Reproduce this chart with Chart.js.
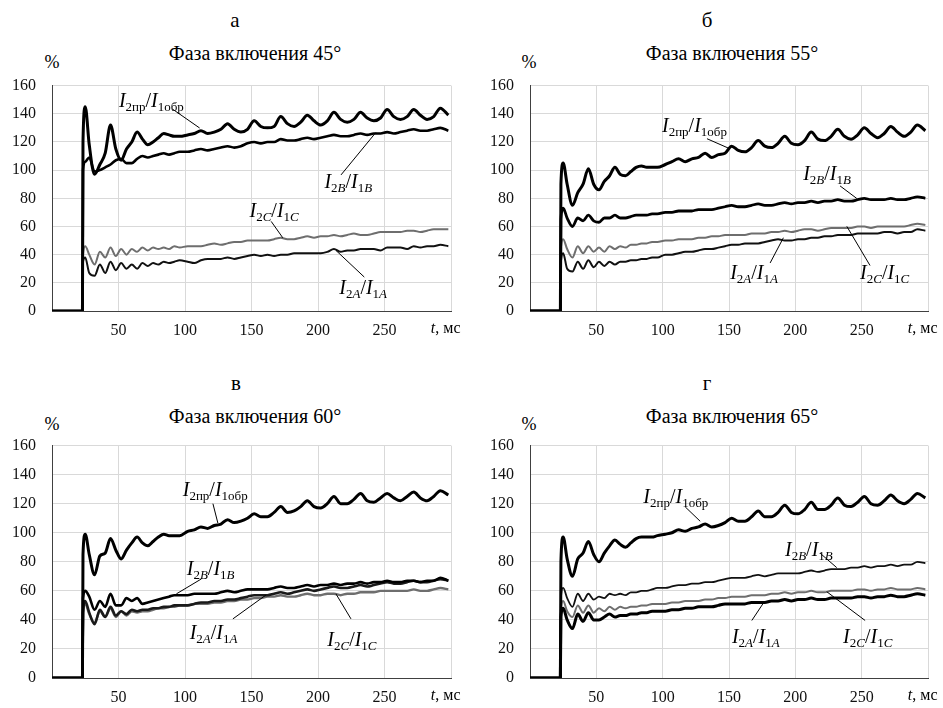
<!DOCTYPE html>
<html>
<head>
<meta charset="utf-8">
<script src="https://cdn.jsdelivr.net/npm/chart.js@4/dist/chart.umd.min.js"></script>
<style>
  body { margin: 0; width: 943px; height: 708px; position: relative; overflow: hidden; background: #fff;
         font-family: 'Liberation Serif', 'Times New Roman', serif; color: #000; }
  canvas { position: absolute; }
  .t { position: absolute; white-space: nowrap; transform: translate(-50%, -50%); }
</style>
</head>
<body>
<div class="t" style="left:235px;top:20px;font-size:21px">а</div>
<div class="t" style="left:707px;top:20px;font-size:21px">б</div>
<div class="t" style="left:236px;top:383px;font-size:21px">в</div>
<div class="t" style="left:707px;top:383px;font-size:21px">г</div>

<div class="t" style="left:255px;top:53px;font-size:20px">Фаза включения 45°</div>
<div class="t" style="left:732px;top:53px;font-size:20px">Фаза включения 55°</div>
<div class="t" style="left:255px;top:416px;font-size:20px">Фаза включения 60°</div>
<div class="t" style="left:732px;top:416px;font-size:20px">Фаза включения 65°</div>

<div class="t" style="left:52px;top:62px;font-size:18px">%</div>
<div class="t" style="left:529px;top:62px;font-size:18px">%</div>
<div class="t" style="left:52px;top:424px;font-size:18px">%</div>
<div class="t" style="left:529px;top:424px;font-size:18px">%</div>

<canvas id="c45" width="470" height="290" style="left:0;top:60px"></canvas>
<canvas id="c55" width="473" height="290" style="left:470px;top:60px"></canvas>
<canvas id="c60" width="470" height="288" style="left:0;top:420px"></canvas>
<canvas id="c65" width="473" height="288" style="left:470px;top:420px"></canvas>

<script>
// время, мс
const T = [0, 22.9, 23.3, 25, 28, 32, 36, 40, 44, 48, 52, 56, 60, 64, 68, 72, 76, 80, 84, 88, 92, 96,
  102, 107, 112, 117, 122, 127, 132, 137, 142, 147, 152, 157, 162, 167, 172, 177, 182, 187, 192, 197,
  202, 207, 212, 217, 222, 227, 232, 237, 242, 247, 252, 257, 262, 267, 272, 277, 282, 287, 292, 298];

const yTicks = [0, 20, 40, 60, 80, 100, 120, 140, 160];
const xTicks = [50, 100, 150, 200, 250];

// Фаза 45
const pr45 = [0,0, 120,145,118,97,104,112,132,115,107,115,120,127,122,118,120,123,126,125,124,124,
  125,126,128,126,127,129,133,129,127,129, 135,131,130,131,138,133,131,134,139,135,
  132,135,141,136,134,136,141,137,135,137, 143,138,136,138,143,139,136,138,144,139];
const b45 = [0,0, 100,106,109,99,100,102,104,107,108,105,105,108,110,109,110,111,112,111,112,113,
  113,114,115,114,115,116,117,116,117,119, 120,119,120,120,122,121,121,122,123,122,
  123,124,125,124,124,125,126,125,126,126, 127,126,127,128,129,128,128,129,130,128];
const c45 = [0,0, 40,46,40,33,42,38,45,39,44,40,44,42,45,43,45,44,45,44,46,45,
  46,46,46,47,48,47,48,49,49,50, 50,50,50,51,52,51,51,52,53,52,
  53,53,54,53,54,55,54,54,55,56, 56,56,56,57,57,56,57,58,58,58];
const a45 = [0,0, 35,38,27,25,33,27,35,29,34,30,33,30,34,32,34,33,35,34,35,36,
  35,34,36,37,37,37,38,37,38,39, 40,39,40,39,40,40,41,41,41,41,
  41,42,44,42,43,43,44,44,44,43, 45,45,45,44,46,45,46,46,47,46];

// Фаза 55
const pr55 = [0,0, 90,105,90,75,84,90,101,90,86,92,96,102,97,96,99,102,103,102,102,102,
  104,106,108,106,108,109,112,109,111,112, 117,114,113,116,121,117,116,119,124,119,
  118,121,127,122,121,124,129,124,122,125, 130,126,123,126,131,127,124,127,132,128];
const b55 = [0,0, 65,73,66,60,66,64,68,64,63,66,66,68,66,66,67,68,68,68,69,69,
  70,70,71,71,71,72,72,72,73,74, 75,74,74,75,76,75,75,76,77,76,
  77,77,78,77,78,78,79,78,78,79, 80,79,79,79,80,79,79,80,81,80];
const c55 = [0,0, 45,51,44,38,46,41,46,42,45,42,46,44,46,45,47,47,48,48,49,49,
  50,50,51,51,51,52,52,53,53,54, 54,54,54,55,55,55,56,56,57,56,
  57,58,58,57,58,59,59,59,59,60, 60,59,60,60,60,60,60,61,62,61];
const a55 = [0,0, 35,41,30,28,35,30,36,31,35,32,35,33,35,35,36,36,37,37,38,38,
  40,40,41,42,42,43,44,44,45,46, 47,47,48,48,48,49,50,51,50,50,
  51,51,52,52,53,53,54,54,54,55, 55,55,55,56,56,55,56,56,58,57];

// Фаза 60
const pr60 = [0,0, 85,99,85,71,84,86,96,88,82,88,93,97,93,91,94,97,99,98,98,98,
  101,102,104,103,105,106,109,107,108,110, 113,111,111,114,118,114,115,118,122,118,
  117,120,125,120,120,123,127,122,121,124, 127,124,122,125,128,124,122,125,129,126];
const b60 = [0,0, 55,60,56,47,53,49,58,50,50,55,53,55,51,52,53,54,55,56,57,57,
  57,58,58,58,58,59,60,59,60,61, 61,61,61,62,63,62,62,63,64,63,
  64,64,65,64,65,65,66,65,66,66, 67,66,66,67,67,66,67,67,69,67];
const c60 = [0,0, 45,51,44,38,46,42,48,42,46,43,46,45,46,46,47,48,48,49,49,50,
  50,51,51,51,52,52,53,53,54,54, 55,55,56,56,57,56,56,57,58,57,
  57,58,58,57,58,58,59,59,59,60, 60,60,60,60,61,60,60,61,62,61];
const a60 = [0,0, 45,53,45,37,47,42,49,43,46,44,47,46,47,47,48,48,49,49,50,50,
  50,51,52,52,53,53,54,54,55,56, 57,57,57,58,59,58,59,60,61,60,
  61,62,63,62,62,63,64,63,64,65, 66,65,65,66,67,66,66,67,68,67];

// Фаза 65
const pr65 = [0,0, 80,97,82,70,82,86,94,85,80,86,91,95,92,90,93,96,97,97,97,98,
  99,100,102,101,103,104,106,104,105,107, 110,108,108,111,115,111,111,114,119,114,
  113,116,121,116,116,119,124,119,118,121, 125,120,119,122,126,122,120,123,127,124];
const b65 = [0,0, 55,62,55,49,58,53,58,54,56,55,58,57,58,57,59,59,60,60,61,62,
  62,63,64,64,65,65,66,66,67,68, 69,69,69,70,71,70,71,72,72,72,
  72,73,74,73,74,75,75,75,76,76, 77,76,77,77,78,77,78,78,80,79];
const c65 = [0,0, 47,53,46,42,50,45,50,45,48,46,49,47,49,48,49,49,50,50,51,51,
  51,52,52,53,53,53,54,54,55,55, 56,56,56,57,57,57,58,58,59,58,
  59,59,60,59,59,60,60,60,60,61, 61,60,61,61,62,61,61,61,62,61];
const a65 = [0,0, 42,48,40,34,44,39,45,40,40,42,44,42,43,43,44,44,45,45,46,46,
  46,47,47,48,48,49,49,49,50,51, 51,51,51,52,52,52,53,53,54,53,
  54,54,55,54,54,55,55,55,55,56, 56,55,56,56,57,56,56,57,58,57];

// подписи кривых
const txtPr = [['I','i'],['2пр','s'],['/','r'],['I','i'],['1обр','s']];
const txt = L => [['I','i'],['2','s'],[L,'si'],['/','r'],['I','i'],['1','s'],[L,'si']];

const FONT = "'Liberation Serif', 'Times New Roman', serif";

const curveLabels = {
  id: 'curveLabels',
  afterDatasetsDraw(chart, args, opts) {
    const { ctx, scales: { x, y }, chartArea } = chart;
    ctx.save();
    ctx.fillStyle = '#000';
    ctx.strokeStyle = '#000';
    ctx.lineWidth = 1;
    ctx.textBaseline = 'alphabetic';
    opts.items.forEach(it => {
      ctx.beginPath();
      ctx.moveTo(x.getPixelForValue(it.line[0]), y.getPixelForValue(it.line[1]));
      ctx.lineTo(x.getPixelForValue(it.line[2]), y.getPixelForValue(it.line[3]));
      ctx.stroke();
      let px = x.getPixelForValue(it.at[0]);
      const py = y.getPixelForValue(it.at[1]);
      it.parts.forEach(([s, st]) => {
        let f, dy = 0;
        if (st === 'i') f = 'italic 20px ' + FONT;
        else if (st === 'r') f = '20px ' + FONT;
        else if (st === 's') { f = '13px ' + FONT; dy = 4; }
        else { f = 'italic 13px ' + FONT; dy = 4; }
        ctx.font = f;
        ctx.fillText(s, px, py + dy);
        px += ctx.measureText(s).width;
      });
    });
    // подпись оси t, мс
    ctx.textBaseline = 'top';
    ctx.font = 'italic 16px ' + FONT;
    const w1 = ctx.measureText('t').width;
    ctx.font = '16px ' + FONT;
    const w2 = ctx.measureText(', мс').width;
    let sx = x.getPixelForValue(296) - (w1 + w2) / 2;
    const sy = chartArea.bottom + 10;
    ctx.font = 'italic 16px ' + FONT;
    ctx.fillText('t', sx, sy);
    ctx.font = '16px ' + FONT;
    ctx.fillText(', мс', sx + w1, sy);
    ctx.restore();
  }
};

function line(vals, color, w) {
  return {
    data: T.map((t, i) => ({ x: t, y: vals[i] })),
    borderColor: color,
    borderWidth: w,
    pointRadius: 0,
    fill: false,
    cubicInterpolationMode: 'monotone'
  };
}

function makePanel(id, datasets, items, yw, xh, padTop, padRight) {
  new Chart(document.getElementById(id), {
    type: 'line',
    data: { datasets },
    options: {
      responsive: false,
      animation: false,
      layout: { padding: { top: padTop, right: padRight, left: 0, bottom: 0 } },
      plugins: {
        legend: { display: false },
        tooltip: { enabled: false },
        curveLabels: { items }
      },
      scales: {
        x: {
          type: 'linear', min: 0, max: 300,
          afterBuildTicks: s => { s.ticks = [0].concat(xTicks, [300]).map(v => ({ value: v })); },
          afterFit: s => { s.height = xh; },
          grid: { color: '#d9d9d9', lineWidth: 1, drawTicks: false },
          border: { display: true, color: '#404040', width: 1 },
          ticks: {
            padding: 10, color: '#111', font: { family: FONT, size: 16 },
            maxRotation: 0, autoSkip: false,
            callback: v => xTicks.includes(v) ? String(v) : ''
          }
        },
        y: {
          min: 0, max: 160,
          afterBuildTicks: s => { s.ticks = yTicks.map(v => ({ value: v })); },
          afterFit: s => { s.width = yw; },
          grid: { color: '#d9d9d9', lineWidth: 1, drawTicks: false },
          border: { display: true, color: '#404040', width: 1 },
          ticks: { padding: 16, color: '#111', font: { family: FONT, size: 16 } }
        }
      }
    },
    plugins: [curveLabels]
  });
}

makePanel('c45', [
  line(pr45, '#000', 3), line(b45, '#000', 2.6), line(a45, '#111', 2), line(c45, '#6e6e6e', 2)
], [
  { parts: txtPr, at: [50.3, 144.6], line: [90.8, 143.2, 111, 129.9] },
  { parts: txt('B'), at: [204.8, 87], line: [217.3, 96.6, 243.5, 126.7] },
  { parts: txt('C'), at: [148.5, 66.9], line: [164.8, 63.6, 173.5, 52] },
  { parts: txt('A'), at: [216, 12], line: [234.8, 24.1, 213.5, 43] }
], 52, 39, 12, 19);

makePanel('c55', [
  line(pr55, '#000', 3), line(b55, '#000', 2.8), line(a55, '#111', 2), line(c55, '#6e6e6e', 2)
], [
  { parts: txtPr, at: [99.5, 127.2], line: [133.4, 122.3, 149.6, 115.6] },
  { parts: txt('B'), at: [205.9, 93], line: [233.7, 88.8, 246.3, 79.9] },
  { parts: txt('A'), at: [150.9, 22.8], line: [181, 34.1, 191, 52] },
  { parts: txt('C'), at: [248.8, 22.8], line: [256.3, 32.3, 238.8, 60.1] }
], 60, 39, 12, 15);

makePanel('c60', [
  line(pr60, '#000', 3), line(b60, '#000', 2.6), line(a60, '#1a1a1a', 2.6), line(c60, '#6e6e6e', 2.4)
], [
  { parts: txtPr, at: [98.3, 125], line: [121, 120, 124.7, 106.7] },
  { parts: txt('B'), at: [101.3, 70.9], line: [112.3, 68.2, 93.5, 57.9] },
  { parts: txt('A'), at: [103.5, 26.6], line: [136, 40.7, 161, 57.2] },
  { parts: txt('C'), at: [207, 22], line: [224.8, 40.7, 213.5, 57.9] }
], 52, 30, 16, 19);

makePanel('c65', [
  line(pr65, '#000', 3), line(a65, '#000', 3), line(b65, '#111', 1.8), line(c65, '#6e6e6e', 2)
], [
  { parts: txtPr, at: [85.4, 120.4], line: [117, 117.8, 128.3, 107.9] },
  { parts: txt('B'), at: [192.2, 84], line: [218.7, 85.9, 231.2, 76] },
  { parts: txt('A'), at: [152.2, 24], line: [167.2, 39.6, 176, 51.7] },
  { parts: txt('C'), at: [236, 24], line: [252.6, 39.6, 223.7, 59.4] }
], 60, 30, 16, 15);
</script>
</body>
</html>
